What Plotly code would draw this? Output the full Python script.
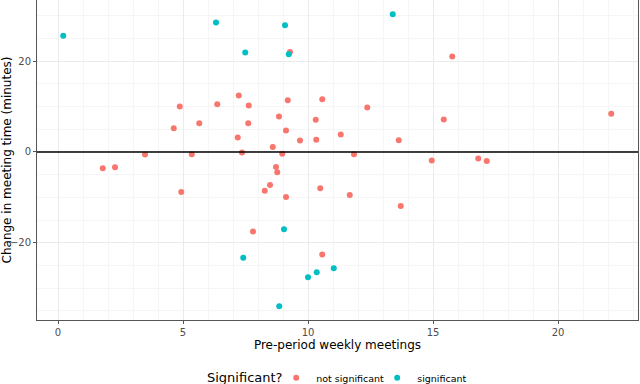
import plotly.graph_objects as go

# pre-period weekly meetings vs change in meeting time
ns_x = [9.28, 7.23, 4.87, 6.37, 7.63, 9.19, 10.57, 4.63, 5.65, 7.61, 8.84, 10.31,
        7.19, 9.12, 9.68, 10.33, 8.59, 7.36, 8.97, 3.48, 5.35, 1.79, 2.28, 8.72,
        15.77, 12.37, 15.43, 22.13, 11.31, 13.63, 11.84, 14.95, 16.81, 17.15,
        8.77, 8.48, 8.27, 4.93, 9.12, 10.49, 7.8, 10.57, 11.67, 13.71]
ns_y = [22.0, 12.4, 10.0, 10.5, 10.2, 11.4, 11.6, 5.2, 6.3, 6.3, 7.8, 7.1,
        3.2, 4.7, 2.5, 2.7, 1.1, -0.1, -0.4, -0.55, -0.5, -3.6, -3.35, -3.3,
        21.0, 9.8, 7.15, 8.4, 3.85, 2.6, -0.5, -1.9, -1.45, -2.0,
        -4.45, -7.3, -8.55, -8.8, -9.9, -8.0, -17.5, -22.6, -9.5, -11.9]

sig_x = [0.21, 6.32, 7.49, 9.08, 9.23, 13.39, 9.04, 7.41, 10.0, 10.35, 11.03, 8.85]
sig_y = [25.6, 28.5, 21.9, 27.9, 21.5, 30.3, -17.0, -23.3, -27.6, -26.5, -25.6, -34.0]

x_ticks = [0, 5, 10, 15, 20]
y_ticks = [-20, 0, 20]

font = "DejaVu Sans"

fig = go.Figure()
fig.add_trace(go.Scatter(x=ns_x, y=ns_y, mode="markers", name="not significant",
                         marker=dict(color="#F8766D", size=6)))
fig.add_trace(go.Scatter(x=sig_x, y=sig_y, mode="markers", name="significant",
                         marker=dict(color="#00BFC4", size=6)))

fig.add_hline(y=0, line=dict(color="black", width=1.6), layer="above")

axis_common = dict(
    automargin=False,
    showgrid=True, gridcolor="#EBEBEB", gridwidth=1,
    minor=dict(showgrid=True, gridcolor="#F5F5F5", gridwidth=0.6),
    zeroline=False, showline=True, linecolor="#555555", linewidth=1, mirror=True,
    ticks="outside", ticklen=3, tickcolor="#555555",
    tickfont=dict(family=font, size=10, color="#4D4D4D"),
)

fig.update_layout(
    width=640, height=384,
    margin=dict(l=37, r=2, t=0, b=64, autoexpand=False),
    plot_bgcolor="white", paper_bgcolor="white",
    font=dict(family=font),
    xaxis=dict(range=[-0.84, 23.2], tickvals=x_ticks,
               title=dict(text="Pre-period weekly meetings", standoff=2,
                          font=dict(family=font, size=12, color="black")),
               **axis_common),
    yaxis=dict(range=[-37.0, 33.45], tickvals=y_ticks,
               title=dict(text="Change in meeting time (minutes)", standoff=4,
                          font=dict(family=font, size=12, color="black")),
               **axis_common),
    legend=dict(orientation="h", x=0.398, xanchor="left", yref="container",
                y=0.016, yanchor="middle",
                entrywidth=56, entrywidthmode="pixels",
                font=dict(family=font, size=9.5, color="black")),
    annotations=[dict(text="Significant?", xref="paper", yref="paper",
                      x=(285 - 37) / 601, xanchor="right", y=-0.181, yanchor="middle",
                      showarrow=False, font=dict(family=font, size=13, color="black"))],
)

# drop the browser's default 8px body margin so the figure sits at the page corner
fig.write_html("out.html", config={"displayModeBar": False},
               post_script="document.body.style.margin='0';")
